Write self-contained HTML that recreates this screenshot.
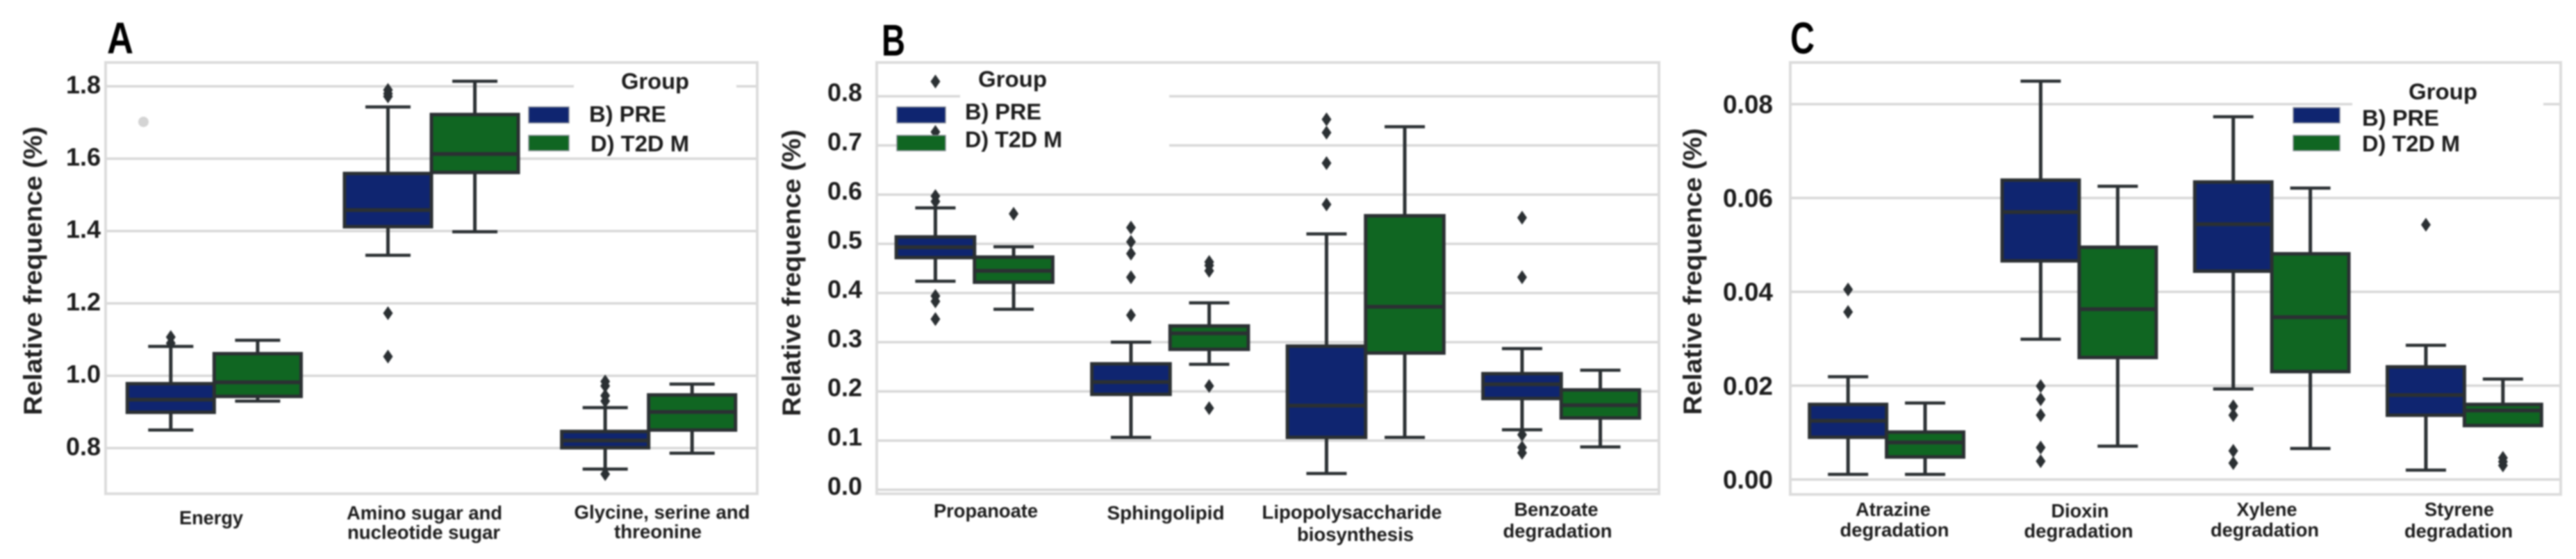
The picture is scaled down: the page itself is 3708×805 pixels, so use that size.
<!DOCTYPE html>
<html lang="en">
<head>
<meta charset="utf-8">
<title>Relative frequence boxplots</title>
<style>
html,body{margin:0;padding:0;background:#fff;width:3708px;height:805px;overflow:hidden}
svg{display:block;filter:blur(1.1px)}
text{font-family:"Liberation Sans",Arial,sans-serif;fill:#1c1c1c}
.tick{font-size:36px;font-weight:700;text-anchor:end}
.cat{font-size:27.5px;font-weight:700;text-anchor:middle}
.ytitle{font-size:37px;font-weight:700;text-anchor:middle;fill:#222}
.leg{font-size:32px;font-weight:700}
.letter{font-size:64px;font-weight:700;fill:#000}
</style>
</head>
<body>
<svg id="chart" xmlns="http://www.w3.org/2000/svg" width="3708" height="805" viewBox="0 0 3708 805">
  <rect width="3708" height="805" fill="#fff"/>
  <g id="panelA"></g>
  <g id="panelB"></g>
  <g id="panelC"></g>

  <g id="static">
    <text class="letter" x="154" y="77" textLength="38" lengthAdjust="spacingAndGlyphs">A</text>
    <text class="letter" x="1269" y="80" textLength="34" lengthAdjust="spacingAndGlyphs">B</text>
    <text class="letter" x="2577" y="77" textLength="35" lengthAdjust="spacingAndGlyphs">C</text>

    <text class="ytitle" transform="translate(60 390) rotate(-90)" textLength="416" lengthAdjust="spacingAndGlyphs">Relative frequence (%)</text>
    <text class="ytitle" transform="translate(1152 393) rotate(-90)" textLength="413" lengthAdjust="spacingAndGlyphs">Relative frequence (%)</text>
    <text class="ytitle" transform="translate(2449 391) rotate(-90)" textLength="413" lengthAdjust="spacingAndGlyphs">Relative frequence (%)</text>

    <text class="cat" x="304" y="755" textLength="92" lengthAdjust="spacingAndGlyphs">Energy</text>
    <text class="cat" x="611" y="748" textLength="224" lengthAdjust="spacingAndGlyphs">Amino sugar and</text>
    <text class="cat" x="610" y="776" textLength="220" lengthAdjust="spacingAndGlyphs">nucleotide sugar</text>
    <text class="cat" x="953" y="747" textLength="253" lengthAdjust="spacingAndGlyphs">Glycine, serine and</text>
    <text class="cat" x="947" y="775" textLength="126" lengthAdjust="spacingAndGlyphs">threonine</text>

    <text class="cat" x="1419" y="745" textLength="150" lengthAdjust="spacingAndGlyphs">Propanoate</text>
    <text class="cat" x="1678" y="748" textLength="169" lengthAdjust="spacingAndGlyphs">Sphingolipid</text>
    <text class="cat" x="1946" y="747" textLength="259" lengthAdjust="spacingAndGlyphs">Lipopolysaccharide</text>
    <text class="cat" x="1951" y="779" textLength="168" lengthAdjust="spacingAndGlyphs">biosynthesis</text>
    <text class="cat" x="2240" y="743" textLength="121" lengthAdjust="spacingAndGlyphs">Benzoate</text>
    <text class="cat" x="2242" y="774" textLength="157" lengthAdjust="spacingAndGlyphs">degradation</text>

    <text class="cat" x="2725" y="743" textLength="108" lengthAdjust="spacingAndGlyphs">Atrazine</text>
    <text class="cat" x="2727" y="772.5" textLength="157" lengthAdjust="spacingAndGlyphs">degradation</text>
    <text class="cat" x="2994" y="745" textLength="83" lengthAdjust="spacingAndGlyphs">Dioxin</text>
    <text class="cat" x="2992" y="774" textLength="157" lengthAdjust="spacingAndGlyphs">degradation</text>
    <text class="cat" x="3263" y="743" textLength="87" lengthAdjust="spacingAndGlyphs">Xylene</text>
    <text class="cat" x="3260" y="772.5" textLength="156" lengthAdjust="spacingAndGlyphs">degradation</text>
    <text class="cat" x="3540" y="743" textLength="100" lengthAdjust="spacingAndGlyphs">Styrene</text>
    <text class="cat" x="3539" y="774" textLength="156" lengthAdjust="spacingAndGlyphs">degradation</text>
  </g>

  <g id="legendA">
    <rect x="826" y="112" width="234" height="113" fill="#fff"/>
    <circle cx="206.5" cy="175.5" r="7.5" fill="#d4d4d4"/>
    <text class="leg" x="894" y="128" textLength="98" lengthAdjust="spacingAndGlyphs">Group</text>
    <rect x="761" y="154" width="58" height="23" fill="#0f2570" stroke="#8a8f98" stroke-width="1.5"/>
    <rect x="761" y="195" width="58" height="22" fill="#106622" stroke="#8a8f98" stroke-width="1.5"/>
    <text class="leg" x="848" y="175.5" textLength="111" lengthAdjust="spacingAndGlyphs">B) PRE</text>
    <text class="leg" x="850" y="218" textLength="142" lengthAdjust="spacingAndGlyphs">D) T2D M</text>
  </g>

  <g id="legendB">
    <rect x="1291" y="154" width="70" height="23" fill="#0f2570" stroke="#8a8f98" stroke-width="1.5"/>
    <rect x="1291" y="195" width="70" height="22" fill="#106622" stroke="#8a8f98" stroke-width="1.5"/>
    <text class="leg" x="1408" y="125" textLength="99" lengthAdjust="spacingAndGlyphs">Group</text>
    <text class="leg" x="1389" y="172" textLength="110" lengthAdjust="spacingAndGlyphs">B) PRE</text>
    <text class="leg" x="1389" y="212" textLength="140" lengthAdjust="spacingAndGlyphs">D) T2D M</text>
  </g>

  <g id="legendC">
    <rect x="3301" y="155" width="67" height="22" fill="#0f2570" stroke="#8a8f98" stroke-width="1.5"/>
    <rect x="3301" y="195" width="67" height="22" fill="#106622" stroke="#8a8f98" stroke-width="1.5"/>
    <text class="leg" x="3467" y="143" textLength="99" lengthAdjust="spacingAndGlyphs">Group</text>
    <text class="leg" x="3400" y="181" textLength="111" lengthAdjust="spacingAndGlyphs">B) PRE</text>
    <text class="leg" x="3400" y="218" textLength="141" lengthAdjust="spacingAndGlyphs">D) T2D M</text>
  </g>
</svg>

<script>
// ---- Panel A data: [lower whisker, q1, median, q3, upper whisker] ----
var categoriesA = ['energy', 'amino-sugar', 'glycine'];
var preStatsA = [
  [0.85, 0.899, 0.934, 0.978, 1.081],
  [1.333, 1.412, 1.458, 1.559, 1.743],
  [0.742, 0.801, 0.821, 0.846, 0.912]
];
var t2dStatsA = [
  [0.93, 0.943, 0.982, 1.061, 1.098],
  [1.398, 1.562, 1.613, 1.722, 1.814],
  [0.786, 0.85, 0.90, 0.947, 0.977]
];
var preFliersA = [
  [1.09, 1.107],
  [1.053, 1.173, 1.772, 1.78, 1.79],
  [0.728, 0.93, 0.945, 0.972, 0.984]
];
var t2dFliersA = [[], [], []];
var ticksA = [0.8, 1.0, 1.2, 1.4, 1.6, 1.8];
var tickLabelsA = ['0.8', '1.0', '1.2', '1.4', '1.6', '1.8'];

// ---- Panel B data ----
var categoriesB = ['propanoate', 'sphingolipid', 'lipopolysaccharide', 'benzoate'];
var preStatsB = [
  [0.424, 0.472, 0.493, 0.514, 0.573],
  [0.1065, 0.194, 0.219, 0.256, 0.30],
  [0.033, 0.1065, 0.171, 0.292, 0.52],
  [0.122, 0.1855, 0.2145, 0.236, 0.287]
];
var t2dStatsB = [
  [0.367, 0.422, 0.445, 0.473, 0.494],
  [0.255, 0.2855, 0.318, 0.333, 0.38],
  [0.1065, 0.278, 0.372, 0.557, 0.738],
  [0.087, 0.146, 0.172, 0.203, 0.243]
];
var preFliersB = [
  [0.347, 0.383, 0.394, 0.586, 0.597, 0.7275, 0.83],
  [0.355, 0.432, 0.48, 0.504, 0.533],
  [0.58, 0.664, 0.726, 0.753],
  [0.075, 0.086, 0.112, 0.432, 0.553]
];
var t2dFliersB = [
  [0.561],
  [0.166, 0.211, 0.445, 0.456, 0.463],
  [],
  []
];
var ticksB = [0.0, 0.1, 0.2, 0.3, 0.4, 0.5, 0.6, 0.7, 0.8];
var tickLabelsB = ['0.0', '0.1', '0.2', '0.3', '0.4', '0.5', '0.6', '0.7', '0.8'];

// ---- Panel C data ----
var categoriesC = ['atrazine', 'dioxin', 'xylene', 'styrene'];
var preStatsC = [
  [0.0011, 0.009, 0.0125, 0.016, 0.0219],
  [0.0299, 0.0466, 0.057, 0.0638, 0.0849],
  [0.0193, 0.0444, 0.0544, 0.0634, 0.0773],
  [0.002, 0.0137, 0.018, 0.024, 0.0286]
];
var t2dStatsC = [
  [0.0011, 0.0048, 0.0079, 0.0101, 0.0163],
  [0.0071, 0.026, 0.0363, 0.0495, 0.0625],
  [0.0066, 0.023, 0.0346, 0.0481, 0.0621],
  [0.0115, 0.0115, 0.0147, 0.016, 0.0214]
];
var preFliersC = [
  [0.0357, 0.0405],
  [0.0039, 0.0068, 0.0137, 0.0171, 0.0199],
  [0.0035, 0.0061, 0.0137, 0.0156],
  [0.0543]
];
var t2dFliersC = [
  [],
  [],
  [],
  [0.003, 0.0038, 0.0046]
];
var ticksC = [0.00, 0.02, 0.04, 0.06, 0.08];
var tickLabelsC = ['0.00', '0.02', '0.04', '0.06', '0.08'];

// ---- Colours ----
var PRE_FILL = '#0f2570';
var T2D_FILL = '#106622';
var EDGE = '#2b3033';
var GRID = '#d8d8d8';
var SVGNS = 'http://www.w3.org/2000/svg';

// ---- Axis functions ----
function yAxisA(v) { return 645.3 - (v - 0.8) * 521; }
function yAxisB(v) { return 705.3 - v * 708.4; }
function yAxisC(v) { return 690.5 - v * 6757; }
function xAxisA(i) { return 152 + (i + 0.5) * 938 / 3; }
function xAxisB(i) { return 1262 + (i + 0.5) * 1126 / 4; }
function xAxisC(i) { return 2577 + (i + 0.5) * 1109 / 4; }

function shape(parent, tag, attrs) {
  var el = document.createElementNS(SVGNS, tag);
  for (var k in attrs) el.setAttribute(k, attrs[k]);
  parent.appendChild(el);
  return el;
}

function drawFrameAndGrid(g, frame, ticks, labels, yAxis, labelRight, labelShift, fontSize) {
  var bg;
  ticks.forEach(function (t, idx) {
    var y = yAxis(t);
    var line = shape(g, 'line', {x1: frame.x, x2: frame.x + frame.w, y1: y, y2: y, stroke: GRID, 'stroke-width': 3.5});
    
    
    var txt = shape(g, 'text', {'class': 'tick', x: labelRight, y: y + labelShift, 'font-size': fontSize, style: 'font-size:' + fontSize + 'px'});
    txt.textContent = labels[idx];
    
    
  });
  bg = shape(g, 'rect', {x: frame.x, y: frame.y, width: frame.w, height: frame.h, fill: 'none', stroke: '#dcdcdc', 'stroke-width': 4});
  
  
}

function drawBox(g, cx, boxW, capW, stats, fliers, fill, yAxis, seriesName) {
  var group = shape(g, 'g', {});
  
  

  var wLow = yAxis(stats[0]), q1 = yAxis(stats[1]), med = yAxis(stats[2]), q3 = yAxis(stats[3]), wHigh = yAxis(stats[4]);

  var whiskerLow = shape(group, 'line', {x1: cx, x2: cx, y1: q1, y2: wLow, stroke: EDGE, 'stroke-width': 5});
  
  

  var whiskerHigh = shape(group, 'line', {x1: cx, x2: cx, y1: q3, y2: wHigh, stroke: EDGE, 'stroke-width': 5});
  
  

  var capLow = shape(group, 'line', {x1: cx - capW / 2, x2: cx + capW / 2, y1: wLow, y2: wLow, stroke: EDGE, 'stroke-width': 4.5});
  
  

  var capHigh = shape(group, 'line', {x1: cx - capW / 2, x2: cx + capW / 2, y1: wHigh, y2: wHigh, stroke: EDGE, 'stroke-width': 4.5});
  
  

  var box = shape(group, 'rect', {x: cx - boxW / 2, y: q3, width: boxW, height: q1 - q3, fill: fill, stroke: EDGE, 'stroke-width': 5});
  
  

  var median = shape(group, 'line', {x1: cx - boxW / 2, x2: cx + boxW / 2, y1: med, y2: med, stroke: EDGE, 'stroke-width': 5.5});
  
  

  fliers.forEach(function (f) {
    var y = yAxis(f);
    var p = shape(group, 'path', {d: 'M' + cx + ' ' + (y - 10) + 'L' + (cx + 7) + ' ' + y + 'L' + cx + ' ' + (y + 10) + 'L' + (cx - 7) + ' ' + y + 'Z', fill: EDGE});
    
    
  });
}

function drawPanel(gId, frame, cats, pre, t2d, preF, t2dF, xAxis, yAxis, ticks, labels, labelRight, labelShift, fontSize, capW) {
  var g = document.getElementById(gId);
  drawFrameAndGrid(g, frame, ticks, labels, yAxis, labelRight, labelShift, fontSize);
  var unit = frame.w / cats.length;
  var boxW = unit * 0.4;
  cats.forEach(function (c, i) {
    var cx = xAxis(i);
    drawBox(g, cx - boxW / 2, boxW, capW, pre[i], preF[i], PRE_FILL, yAxis, 'box-pre-' + c);
    drawBox(g, cx + boxW / 2, boxW, capW, t2d[i], t2dF[i], T2D_FILL, yAxis, 'box-t2d-' + c);
  });
}

var frameA = {x: 152, y: 90, w: 938, h: 621};
var frameB = {x: 1262, y: 90, w: 1126, h: 621};
var frameC = {x: 2577, y: 90, w: 1109, h: 622};

drawPanel('panelA', frameA, categoriesA, preStatsA, t2dStatsA, preFliersA, t2dFliersA, xAxisA, yAxisA, ticksA, tickLabelsA, 145, 10, 36, 65);
drawPanel('panelB', frameB, categoriesB, preStatsB, t2dStatsB, preFliersB, t2dFliersB, xAxisB, yAxisB, ticksB, tickLabelsB, 1241, 7, 36, 58);
drawPanel('panelC', frameC, categoriesC, preStatsC, t2dStatsC, preFliersC, t2dFliersC, xAxisC, yAxisC, ticksC, tickLabelsC, 2552, 13, 37, 58);

// Legend backgrounds mask the gridlines behind the legends in panels B and C.
var panelBGroup = document.getElementById('panelB');
var legendBMaskTop = shape(panelBGroup, 'rect', {x: 1382, y: 115, width: 301, height: 40, fill: '#fff'});


var legendBMaskBottom = shape(panelBGroup, 'rect', {x: 1361, y: 195, width: 322, height: 24, fill: '#fff'});


var panelCGroup = document.getElementById('panelC');
var legendCMask = shape(panelCGroup, 'rect', {x: 3386, y: 130, width: 275, height: 100, fill: '#fff'});


</script>
</body>
</html>
